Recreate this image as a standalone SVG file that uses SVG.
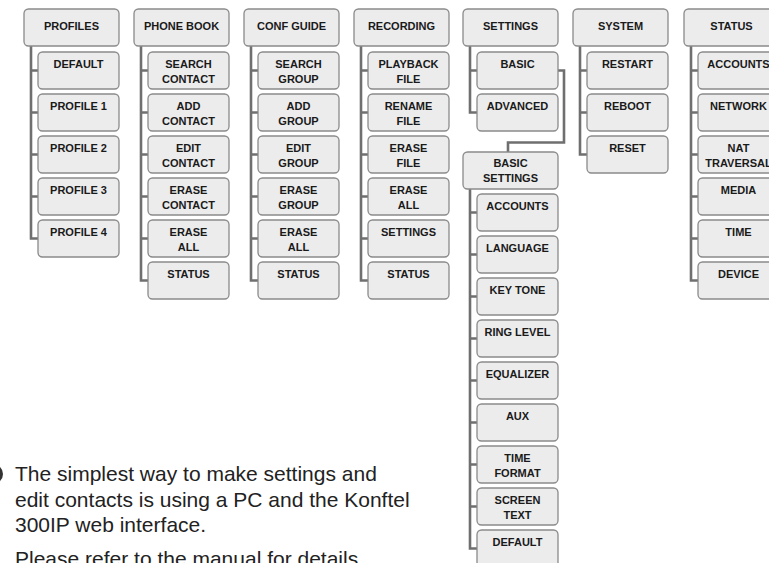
<svg xmlns="http://www.w3.org/2000/svg" width="769" height="563" viewBox="0 0 769 563">
<style>
.b{fill:#ececec;stroke:#8a8a8a;stroke-width:1.3}
.t{font-family:"Liberation Sans",Arial,sans-serif;font-weight:bold;font-size:11px;fill:#1a1a1a;text-anchor:middle}
.ln{fill:none;stroke:#6f6f6f;stroke-width:2.6;stroke-linejoin:miter}
.p{font-family:"Liberation Sans",Arial,sans-serif;font-size:21px;fill:#222}
</style>
<defs>
<rect id="pb" width="95" height="37" rx="4.5"/>
<rect id="cb" width="81" height="37" rx="4.5"/>
</defs>
<rect width="769" height="563" fill="#fff"/>

<g id="connectors">
<path class="ln" d="M31 46V238.5H38M31 70.5H38M31 112.5H38M31 154.5H38M31 196.5H38"/>
<path class="ln" d="M141 46V280.5H148M141 70.5H148M141 112.5H148M141 154.5H148M141 196.5H148M141 238.5H148"/>
<path class="ln" d="M251 46V280.5H258M251 70.5H258M251 112.5H258M251 154.5H258M251 196.5H258M251 238.5H258"/>
<path class="ln" d="M361 46V280.5H368M361 70.5H368M361 112.5H368M361 154.5H368M361 196.5H368M361 238.5H368"/>
<path class="ln" d="M470 46V112.5H477M470 70.5H477"/>
<path class="ln" d="M558 70.5H564V142.5H508V152"/>
<path class="ln" d="M580 46V154.5H587M580 70.5H587M580 112.5H587"/>
<path class="ln" d="M691 46V280.5H698M691 70.5H698M691 112.5H698M691 154.5H698M691 196.5H698M691 238.5H698"/>
<path class="ln" d="M470 189V548.5H477M470 212.5H477M470 254.5H477M470 296.5H477M470 338.5H477M470 380.5H477M470 422.5H477M470 464.5H477M470 506.5H477"/>
</g>

<!-- PROFILES -->
<g id="profiles"><use href="#pb" class="b" x="24" y="9"/><text class="t" x="71.5" y="30">PROFILES</text></g>
<g id="profiles-default"><use href="#cb" class="b" x="38" y="52"/><text class="t" x="78.5" y="68">DEFAULT</text></g>
<g id="profile-1"><use href="#cb" class="b" x="38" y="94"/><text class="t" x="78.5" y="110">PROFILE 1</text></g>
<g id="profile-2"><use href="#cb" class="b" x="38" y="136"/><text class="t" x="78.5" y="152">PROFILE 2</text></g>
<g id="profile-3"><use href="#cb" class="b" x="38" y="178"/><text class="t" x="78.5" y="194">PROFILE 3</text></g>
<g id="profile-4"><use href="#cb" class="b" x="38" y="220"/><text class="t" x="78.5" y="236">PROFILE 4</text></g>

<!-- PHONE BOOK -->
<g id="phonebook"><use href="#pb" class="b" x="134" y="9"/><text class="t" x="181.5" y="30">PHONE BOOK</text></g>
<g id="pb-search"><use href="#cb" class="b" x="148" y="52"/><text class="t" x="188.5" y="68">SEARCH<tspan x="188.5" dy="14.5">CONTACT</tspan></text></g>
<g id="pb-add"><use href="#cb" class="b" x="148" y="94"/><text class="t" x="188.5" y="110">ADD<tspan x="188.5" dy="14.5">CONTACT</tspan></text></g>
<g id="pb-edit"><use href="#cb" class="b" x="148" y="136"/><text class="t" x="188.5" y="152">EDIT<tspan x="188.5" dy="14.5">CONTACT</tspan></text></g>
<g id="pb-erase"><use href="#cb" class="b" x="148" y="178"/><text class="t" x="188.5" y="194">ERASE<tspan x="188.5" dy="14.5">CONTACT</tspan></text></g>
<g id="pb-eraseall"><use href="#cb" class="b" x="148" y="220"/><text class="t" x="188.5" y="236">ERASE<tspan x="188.5" dy="14.5">ALL</tspan></text></g>
<g id="pb-status"><use href="#cb" class="b" x="148" y="262"/><text class="t" x="188.5" y="278">STATUS</text></g>

<!-- CONF GUIDE -->
<g id="confguide"><use href="#pb" class="b" x="244" y="9"/><text class="t" x="291.5" y="30">CONF GUIDE</text></g>
<g id="cg-search"><use href="#cb" class="b" x="258" y="52"/><text class="t" x="298.5" y="68">SEARCH<tspan x="298.5" dy="14.5">GROUP</tspan></text></g>
<g id="cg-add"><use href="#cb" class="b" x="258" y="94"/><text class="t" x="298.5" y="110">ADD<tspan x="298.5" dy="14.5">GROUP</tspan></text></g>
<g id="cg-edit"><use href="#cb" class="b" x="258" y="136"/><text class="t" x="298.5" y="152">EDIT<tspan x="298.5" dy="14.5">GROUP</tspan></text></g>
<g id="cg-erase"><use href="#cb" class="b" x="258" y="178"/><text class="t" x="298.5" y="194">ERASE<tspan x="298.5" dy="14.5">GROUP</tspan></text></g>
<g id="cg-eraseall"><use href="#cb" class="b" x="258" y="220"/><text class="t" x="298.5" y="236">ERASE<tspan x="298.5" dy="14.5">ALL</tspan></text></g>
<g id="cg-status"><use href="#cb" class="b" x="258" y="262"/><text class="t" x="298.5" y="278">STATUS</text></g>

<!-- RECORDING -->
<g id="recording"><use href="#pb" class="b" x="354" y="9"/><text class="t" x="401.5" y="30">RECORDING</text></g>
<g id="rec-playback"><use href="#cb" class="b" x="368" y="52"/><text class="t" x="408.5" y="68">PLAYBACK<tspan x="408.5" dy="14.5">FILE</tspan></text></g>
<g id="rec-rename"><use href="#cb" class="b" x="368" y="94"/><text class="t" x="408.5" y="110">RENAME<tspan x="408.5" dy="14.5">FILE</tspan></text></g>
<g id="rec-erase"><use href="#cb" class="b" x="368" y="136"/><text class="t" x="408.5" y="152">ERASE<tspan x="408.5" dy="14.5">FILE</tspan></text></g>
<g id="rec-eraseall"><use href="#cb" class="b" x="368" y="178"/><text class="t" x="408.5" y="194">ERASE<tspan x="408.5" dy="14.5">ALL</tspan></text></g>
<g id="rec-settings"><use href="#cb" class="b" x="368" y="220"/><text class="t" x="408.5" y="236">SETTINGS</text></g>
<g id="rec-status"><use href="#cb" class="b" x="368" y="262"/><text class="t" x="408.5" y="278">STATUS</text></g>

<!-- SETTINGS -->
<g id="settings"><use href="#pb" class="b" x="463" y="9"/><text class="t" x="510.5" y="30">SETTINGS</text></g>
<g id="set-basic"><use href="#cb" class="b" x="477" y="52"/><text class="t" x="517.5" y="68">BASIC</text></g>
<g id="set-advanced"><use href="#cb" class="b" x="477" y="94"/><text class="t" x="517.5" y="110">ADVANCED</text></g>

<!-- BASIC SETTINGS -->
<g id="basic-settings"><use href="#pb" class="b" x="463" y="152"/><text class="t" x="510.5" y="167">BASIC<tspan x="510.5" dy="14.5">SETTINGS</tspan></text></g>
<g id="bs-accounts"><use href="#cb" class="b" x="477" y="194"/><text class="t" x="517.5" y="210">ACCOUNTS</text></g>
<g id="bs-language"><use href="#cb" class="b" x="477" y="236"/><text class="t" x="517.5" y="252">LANGUAGE</text></g>
<g id="bs-keytone"><use href="#cb" class="b" x="477" y="278"/><text class="t" x="517.5" y="294">KEY TONE</text></g>
<g id="bs-ringlevel"><use href="#cb" class="b" x="477" y="320"/><text class="t" x="517.5" y="336">RING LEVEL</text></g>
<g id="bs-equalizer"><use href="#cb" class="b" x="477" y="362"/><text class="t" x="517.5" y="378">EQUALIZER</text></g>
<g id="bs-aux"><use href="#cb" class="b" x="477" y="404"/><text class="t" x="517.5" y="420">AUX</text></g>
<g id="bs-timeformat"><use href="#cb" class="b" x="477" y="446"/><text class="t" x="517.5" y="462">TIME<tspan x="517.5" dy="14.5">FORMAT</tspan></text></g>
<g id="bs-screentext"><use href="#cb" class="b" x="477" y="488"/><text class="t" x="517.5" y="504">SCREEN<tspan x="517.5" dy="14.5">TEXT</tspan></text></g>
<g id="bs-default"><use href="#cb" class="b" x="477" y="530"/><text class="t" x="517.5" y="546">DEFAULT</text></g>

<!-- SYSTEM -->
<g id="system"><use href="#pb" class="b" x="573" y="9"/><text class="t" x="620.5" y="30">SYSTEM</text></g>
<g id="sys-restart"><use href="#cb" class="b" x="587" y="52"/><text class="t" x="627.5" y="68">RESTART</text></g>
<g id="sys-reboot"><use href="#cb" class="b" x="587" y="94"/><text class="t" x="627.5" y="110">REBOOT</text></g>
<g id="sys-reset"><use href="#cb" class="b" x="587" y="136"/><text class="t" x="627.5" y="152">RESET</text></g>

<!-- STATUS -->
<g id="status"><use href="#pb" class="b" x="684" y="9"/><text class="t" x="731.5" y="30">STATUS</text></g>
<g id="st-accounts"><use href="#cb" class="b" x="698" y="52"/><text class="t" x="738.5" y="68">ACCOUNTS</text></g>
<g id="st-network"><use href="#cb" class="b" x="698" y="94"/><text class="t" x="738.5" y="110">NETWORK</text></g>
<g id="st-nat"><use href="#cb" class="b" x="698" y="136"/><text class="t" x="738.5" y="152">NAT<tspan x="738.5" dy="14.5">TRAVERSAL</tspan></text></g>
<g id="st-media"><use href="#cb" class="b" x="698" y="178"/><text class="t" x="738.5" y="194">MEDIA</text></g>
<g id="st-time"><use href="#cb" class="b" x="698" y="220"/><text class="t" x="738.5" y="236">TIME</text></g>
<g id="st-device"><use href="#cb" class="b" x="698" y="262"/><text class="t" x="738.5" y="278">DEVICE</text></g>

<!-- note -->
<g id="note">
<circle cx="-7" cy="474" r="10" fill="#333"/>
<text class="p" x="15" y="481">The simplest way to make settings and</text>
<text class="p" x="15" y="507">edit contacts is using a PC and the Konftel</text>
<text class="p" x="15" y="532">300IP web interface.</text>
<text class="p" x="15" y="566">Please refer to the manual for details</text>
</g>
</svg>
